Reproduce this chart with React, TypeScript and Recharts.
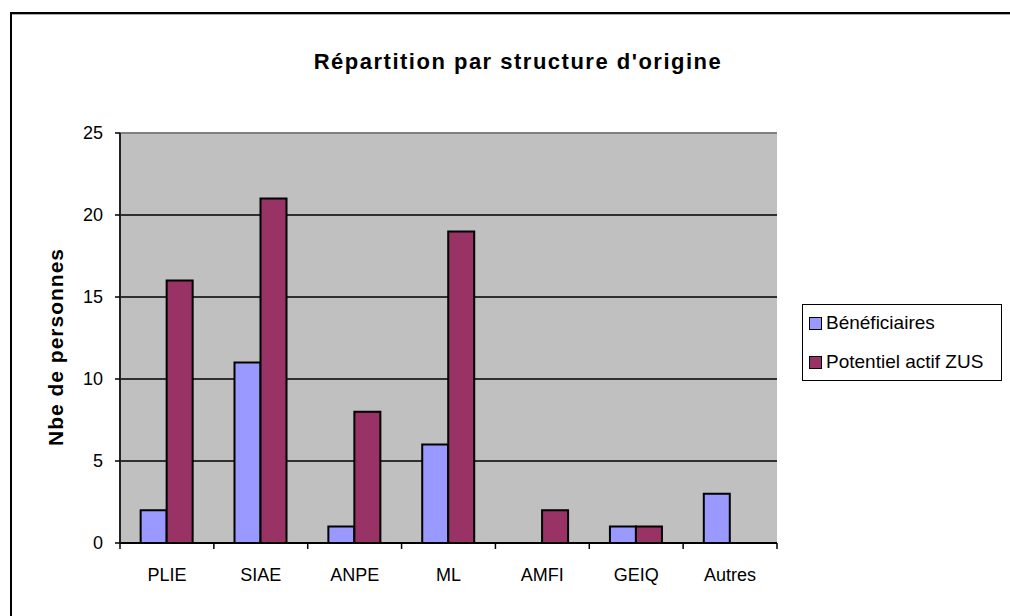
import { BarChart, Bar, XAxis, YAxis, CartesianGrid, ReferenceLine } from 'recharts'

const categories = ['PLIE', 'SIAE', 'ANPE', 'ML', 'AMFI', 'GEIQ', 'Autres']
const beneficiaires = [2, 11, 1, 6, 0, 1, 3]
const potentielZus = [16, 21, 8, 19, 2, 1, 0]
const yTicks = [0, 5, 10, 15, 20, 25]

const chartData = categories.map((c, i) => ({
  name: c,
  benef: beneficiaires[i],
  zus: potentielZus[i],
}))

const FONT = '"Liberation Sans", Arial, sans-serif'
const PLOT_LEFT = 120
const PLOT_RIGHT = 777
const PLOT_BOTTOM = 543
const band = (PLOT_RIGHT - PLOT_LEFT) / categories.length

function XTick(props: any) {
  const { x, payload, index } = props
  return (
    <g>
      <line x1={x + band / 2} x2={x + band / 2} y1={PLOT_BOTTOM} y2={PLOT_BOTTOM + 6} stroke="#000" strokeWidth={1.5} />
      {index === 0 && (
        <line x1={x - band / 2} x2={x - band / 2} y1={PLOT_BOTTOM} y2={PLOT_BOTTOM + 6} stroke="#000" strokeWidth={1.5} />
      )}
      <text x={x} y={PLOT_BOTTOM + 38} textAnchor="middle" fontFamily={FONT} fontSize={18} fill="#000">
        {payload.value}
      </text>
    </g>
  )
}

function LegendBox() {
  const items = [
    { label: 'Bénéficiaires', color: '#9999FF' },
    { label: 'Potentiel actif ZUS', color: '#993366' },
  ]
  return (
    <div
      style={{
        position: 'absolute',
        left: 802,
        top: 304,
        width: 198,
        height: 75,
        border: '1px solid #000',
        background: '#fff',
        fontFamily: FONT,
        fontSize: 19,
        color: '#000',
      }}
    >
      {items.map((it, i) => (
        <div key={it.label} style={{ position: 'absolute', left: 6, top: i === 0 ? 7 : 46, display: 'flex', alignItems: 'center', whiteSpace: 'nowrap' }}>
          <span style={{ width: 11, height: 11, background: it.color, border: '1px solid #000', marginRight: 4, display: 'inline-block' }} />
          <span>{it.label}</span>
        </div>
      ))}
    </div>
  )
}

export default function App() {
  return (
    <div style={{ position: 'fixed', left: 0, top: 0, width: 1010, height: 616, overflow: 'hidden', background: '#fff' }}>
      <div
        style={{
          position: 'absolute',
          left: 10,
          top: 12,
          width: 1100,
          height: 700,
          border: '2px solid #000',
          boxShadow: 'inset 0 1px 0 #aaa',
        }}
      />
      <div
        style={{
          position: 'absolute',
          left: 0,
          width: 1036,
          top: 49,
          textAlign: 'center',
          fontFamily: FONT,
          fontWeight: 'bold',
          fontSize: 22,
          letterSpacing: 1.5,
          color: '#000',
        }}
      >
        Répartition par structure d'origine
      </div>
      <div
        style={{
          position: 'absolute',
          left: 56,
          top: 347,
          transform: 'translate(-50%, -50%) rotate(-90deg)',
          fontFamily: FONT,
          fontWeight: 'bold',
          fontSize: 21,
          letterSpacing: 1,
          whiteSpace: 'nowrap',
          color: '#000',
        }}
      >
        Nbe de personnes
      </div>
      <div style={{ position: 'absolute', left: 0, top: 0 }}>
        <BarChart
          width={1010}
          height={616}
          data={chartData}
          margin={{ top: 133, right: 1010 - PLOT_RIGHT, bottom: 616 - PLOT_BOTTOM - 30, left: PLOT_LEFT - 60 }}
          barCategoryGap="22%"
          barGap={0}
        >
          <CartesianGrid fill="#C0C0C0" fillOpacity={1} vertical={false} horizontalValues={[5, 10, 15, 20]} stroke="#000" strokeWidth={1.5} />
          <XAxis
            dataKey="name"
            height={30}
            tickLine={false}
            tick={<XTick />}
            axisLine={{ stroke: '#000', strokeWidth: 2 }}
            interval={0}
          />
          <YAxis
            width={60}
            domain={[0, 25]}
            ticks={yTicks}
            interval={0}
            tickSize={5}
            tickMargin={12}
            tickLine={{ stroke: '#000', strokeWidth: 1.5 }}
            axisLine={{ stroke: '#222', strokeWidth: 2 }}
            tick={{ fontFamily: FONT, fontSize: 18, fill: '#000' }}
          />
          <YAxis yAxisId="edge" orientation="right" width={0} domain={[0, 25]} tick={false} tickLine={false} axisLine={{ stroke: '#808080', strokeWidth: 2 }} />
          <ReferenceLine y={25} stroke="#808080" strokeWidth={2} />
          <Bar dataKey="benef" name="Bénéficiaires" fill="#9999FF" stroke="#000" strokeWidth={2} isAnimationActive={false} />
          <Bar dataKey="zus" name="Potentiel actif ZUS" fill="#993366" stroke="#000" strokeWidth={2} isAnimationActive={false} />
        </BarChart>
      </div>
      <LegendBox />
    </div>
  )
}
